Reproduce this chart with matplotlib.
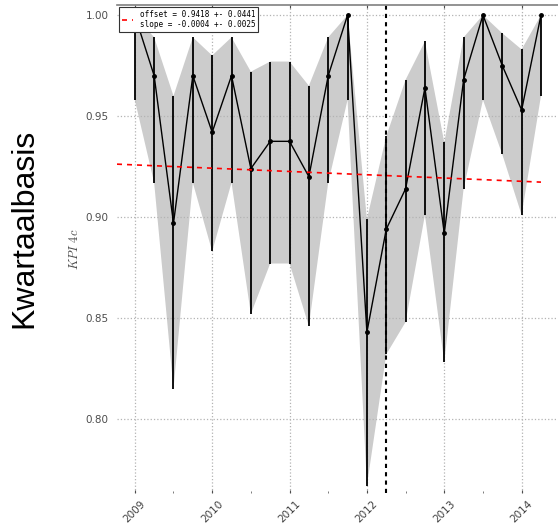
import matplotlib
matplotlib.use('Agg')
import matplotlib.pyplot as plt
from matplotlib.ticker import MultipleLocator

plt.rcParams['mathtext.fontset'] = 'cm'

# quarterly KPI 4c values with confidence bounds
quarters = [2009.00, 2009.25, 2009.50, 2009.75, 2010.00, 2010.25, 2010.50, 2010.75,
            2011.00, 2011.25, 2011.50, 2011.75, 2012.00, 2012.25, 2012.50, 2012.75,
            2013.00, 2013.25, 2013.50, 2013.75, 2014.00, 2014.25]
kpi = [1.000, 0.970, 0.897, 0.970, 0.942, 0.970, 0.924, 0.9375,
       0.9375, 0.920, 0.970, 1.000, 0.843, 0.894, 0.914, 0.964,
       0.892, 0.968, 1.000, 0.975, 0.953, 1.000]
upper = [1.000, 0.989, 0.960, 0.989, 0.980, 0.989, 0.972, 0.977,
         0.977, 0.965, 0.989, 1.000, 0.899, 0.940, 0.968, 0.987,
         0.937, 0.989, 1.000, 0.991, 0.983, 1.000]
lower = [0.958, 0.917, 0.815, 0.917, 0.883, 0.917, 0.852, 0.877,
         0.877, 0.846, 0.917, 0.958, 0.767, 0.832, 0.848, 0.901,
         0.828, 0.914, 0.958, 0.931, 0.901, 0.960]

# linear trend (red dashed)
trend_x = [2008.77, 2014.25]
trend_y = [0.9262, 0.9173]
trend_label = 'offset = 0.9418 +- 0.0441\nslope = -0.0004 +- 0.0025'

marker_x = 2012.25
years = [2009, 2010, 2011, 2012, 2013, 2014]
yticks = [0.80, 0.85, 0.90, 0.95, 1.00]

fig = plt.figure(figsize=(5.58, 5.31), dpi=100)
ax = fig.add_axes([0.2097, 0.0716, 0.7903, 0.919])

ax.fill_between(quarters, lower, upper, facecolor='k', alpha=0.2, linewidth=0)
yerr_lo = [k - l for k, l in zip(kpi, lower)]
yerr_hi = [u - k for k, u in zip(kpi, upper)]
ax.errorbar(quarters, kpi, yerr=[yerr_lo, yerr_hi], fmt='none', ecolor='k',
            elinewidth=1.3, capsize=0)
ax.plot(quarters, kpi, color='k', linewidth=1.0, marker='o', markersize=2.5)
ax.plot(trend_x, trend_y, color='red', linestyle='--', linewidth=1.2,
        dashes=(3, 3), label=trend_label)
ax.axvline(marker_x, color='k', linestyle='--', linewidth=1.5, dashes=(2, 2))

ax.set_xlim(2008.77, 2014.47)
ax.set_ylim(0.7634, 1.005)
ax.set_xticks(years)
ax.set_xticklabels([str(y) for y in years], rotation=45, ha='center',
                   fontsize=7.5, color='0.25')
ax.xaxis.set_minor_locator(MultipleLocator(0.5))
ax.set_yticks(yticks)
ax.set_yticklabels(['%.2f' % v for v in yticks], fontsize=7.5, color='0.3')
ax.tick_params(axis='x', which='major', direction='in', length=2.5, top=True,
               color='0.3', pad=4)
ax.tick_params(axis='x', which='minor', direction='in', length=1.5, top=False,
               color='0.4')
ax.tick_params(axis='y', length=0, pad=6)

ax.grid(True, which='major', linestyle=':', color='0.7', linewidth=0.9)
for side in ['left', 'right', 'bottom']:
    ax.spines[side].set_visible(False)
ax.spines['top'].set_color('0.5')
ax.spines['top'].set_linewidth(1.2)

ax.set_ylabel(r'$KPI\ 4c$', fontsize=9, color='0.3', labelpad=3)

leg = ax.legend(loc='upper left', prop={'family': 'DejaVu Sans Mono', 'size': 5.5},
                fancybox=False, framealpha=1, borderaxespad=0.3,
                handlelength=1.5, borderpad=0.35, labelspacing=0.3)
leg.get_frame().set_edgecolor('0.2')
leg.get_frame().set_linewidth(0.8)

fig.text(0.043, 0.57, 'Kwartaalbasis', rotation=90, fontsize=23,
         family='Liberation Sans', ha='center', va='center')

fig.savefig('out.png', dpi=100)
